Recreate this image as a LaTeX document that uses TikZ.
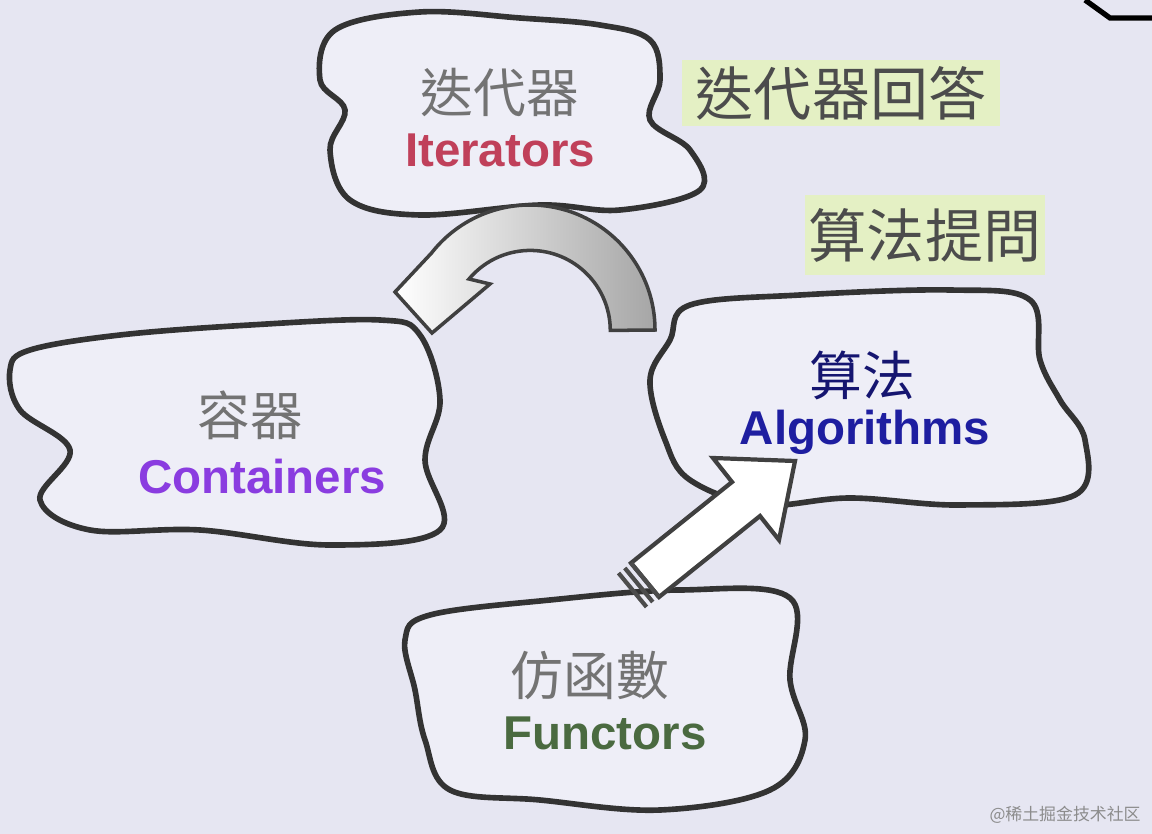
\documentclass[tikz,border=0pt]{standalone}
\usepackage{fontspec}
\setmainfont{Liberation Sans}
\newfontfamily\cjk{Noto Sans CJK TC}
\usetikzlibrary{shadings}
\definecolor{bg}{HTML}{E6E6F2}
\definecolor{cl}{HTML}{EEEEF7}
\definecolor{hl}{HTML}{E4F0C4}
\definecolor{itc}{HTML}{C0405A}
\definecolor{coc}{HTML}{8A3CE0}
\definecolor{alc}{HTML}{1E1EA0}
\definecolor{fuc}{HTML}{4A6A40}
\tikzset{
 cloud/.style={draw=black!80,line width=1.6pt,fill=cl},
 zh/.style={font=\cjk\fontsize{15}{16}\selectfont,text=black!55},
 en/.style={font=\bfseries\fontsize{13.5}{15}\selectfont},
 hlbox/.style={fill=hl,font=\cjk\fontsize{16.5}{18}\selectfont,text=black!70,inner sep=0pt}
}
\begin{document}
\begin{tikzpicture}[x=0.01cm,y=-0.01cm]
\fill[bg] (0,0) rectangle (1152,834);
\useasboundingbox (0,0) rectangle (1152,834);
\draw[line width=1.5pt] (1085,0) -- (1110,18) -- (1152,18);
% clouds
\draw[cloud] plot[smooth cycle,tension=0.6] coordinates {(335,30)(420,12)(520,18)(600,25)(650,40)(660,80)(650,120)(690,150)(700,190)(620,210)(540,205)(420,215)(350,200)(330,150)(345,110)(320,80)};
\draw[cloud] plot[smooth cycle,tension=0.6] coordinates {(30,350)(120,335)(250,325)(380,320)(420,335)(440,400)(425,460)(440,530)(330,545)(200,530)(90,530)(40,500)(70,450)(20,410)(10,370)};
\draw[cloud] plot[smooth cycle,tension=0.6] coordinates {(690,305)(800,295)(950,290)(1030,300)(1040,360)(1060,400)(1085,440)(1075,495)(960,505)(850,498)(760,505)(690,480)(665,440)(650,380)(670,340)};
\draw[cloud] plot[smooth cycle,tension=0.6] coordinates {(430,615)(550,600)(680,590)(790,598)(790,680)(805,740)(770,790)(660,810)(540,800)(450,790)(425,740)(415,690)(405,640)};
% texts
\node[zh] (itz) at (500,93) {迭代器};
\node[en,text=itc] (ite) at (500,150) {Iterators};
\node[zh] (coz) at (250,415) {容器};
\node[en,text=coc] (coe) at (262,477) {Containers};
\node[zh,text=alc!70!black] (alz) at (862,375) {算法};
\node[en,text=alc] (ale) at (865,432) {Algorithms};
\node[zh] (fuz) at (590,675) {仿函數};
\node[en,text=fuc] (fue) at (605,733) {Functors};
\node[hlbox,minimum width=3.17cm,minimum height=0.66cm] (h1) at (841,93) {迭代器回答};
\node[hlbox,minimum width=2.4cm,minimum height=0.8cm] (h2) at (925,235) {算法提問};
% curved arrow
\shade[left color=white,right color=black!35,draw=black!75,line width=1pt]
 (655,330) arc[start angle=0,end angle=-142,radius=125]
 -- (395,292) -- (432,333) -- (490,284)
 -- (469,279) arc[start angle=-140,end angle=0,radius=80] -- cycle;
% straight arrow
\draw[fill=white,draw=black!75,line width=1.2pt]
 (659,597) -- (760,516) -- (779,540) -- (795,461) -- (713,458) -- (732,482) -- (631,563) -- cycle;
\foreach \d in {0,8,16}{
 \draw[black!70,line width=1.2pt] ({631-0.78*\d},{563+0.625*\d}) -- ({659-0.78*\d},{597+0.625*\d});
}
\node[font=\cjk\fontsize{4.8}{5}\selectfont,text=black!45] (wm) at (1065,815) {@稀土掘金技术社区};
\end{tikzpicture}
\end{document}
